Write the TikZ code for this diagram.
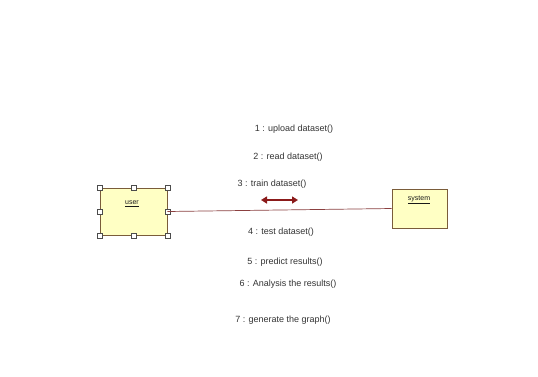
\documentclass[tikz,border=0pt]{standalone}
\usepackage{fontspec}
\setmainfont{Liberation Sans}
\usetikzlibrary{arrows.meta}
\definecolor{objfill}{HTML}{FFFFC4}
\definecolor{objline}{HTML}{7A5C3A}
\definecolor{linkred}{HTML}{8B4040}
\definecolor{msgred}{HTML}{8B1A1A}
\tikzset{
  objbox/.style={draw=objline, fill=objfill, line width=0.8pt, inner sep=0pt},
  handle/.style={draw=black!70, fill=white, line width=0.5pt, minimum size=5pt, inner sep=0pt},
  msg/.style={font=\fontsize{9}{11}\selectfont, text=black!80, inner sep=0pt},
  objlabel/.style={font=\fontsize{7}{8}\selectfont, text=black!90, inner sep=0pt},
  link/.style={draw=linkred, line width=0.7pt},
  msgarrow/.style={draw=msgred, line width=1.5pt, {Triangle[length=6pt,width=7pt]}-{Triangle[length=6pt,width=7pt]}}
}
\begin{document}
\begin{tikzpicture}[x=1pt,y=-1pt]
\useasboundingbox (0,0) rectangle (538,376);
% object boxes
\node[objbox, minimum width=67pt, minimum height=47pt] (user) at (133.5,211.5) {};
\node[objbox, minimum width=55pt, minimum height=39pt] (system) at (419.5,208.5) {};
\node[objlabel] at (132,204) {\underline{user}};
\node[objlabel] at (419,200) {\underline{system}};
% selection handles on the user object
\foreach \a in {north west,north,north east,west,east,south west,south,south east}
  \node[handle] at (user.\a) {};
% link between objects
\draw[link] (user.east) -- (system.west);
% message direction arrow
\coordinate (ma) at (261,200);
\coordinate (mb) at (298,200);
\draw[msgarrow] (ma) -- (mb);
% messages
\node[msg] (m1) at (294,129) {1 : upload dataset()};
\node[msg] (m2) at (288,157) {2 : read dataset()};
\node[msg] (m3) at (272,184) {3 : train dataset()};
\node[msg] (m4) at (281,232) {4 : test dataset()};
\node[msg] (m5) at (285,262) {5 : predict results()};
\node[msg] (m6) at (288,284) {6 : Analysis the results()};
\node[msg] (m7) at (283,320) {7 : generate the graph()};
\end{tikzpicture}
\end{document}
